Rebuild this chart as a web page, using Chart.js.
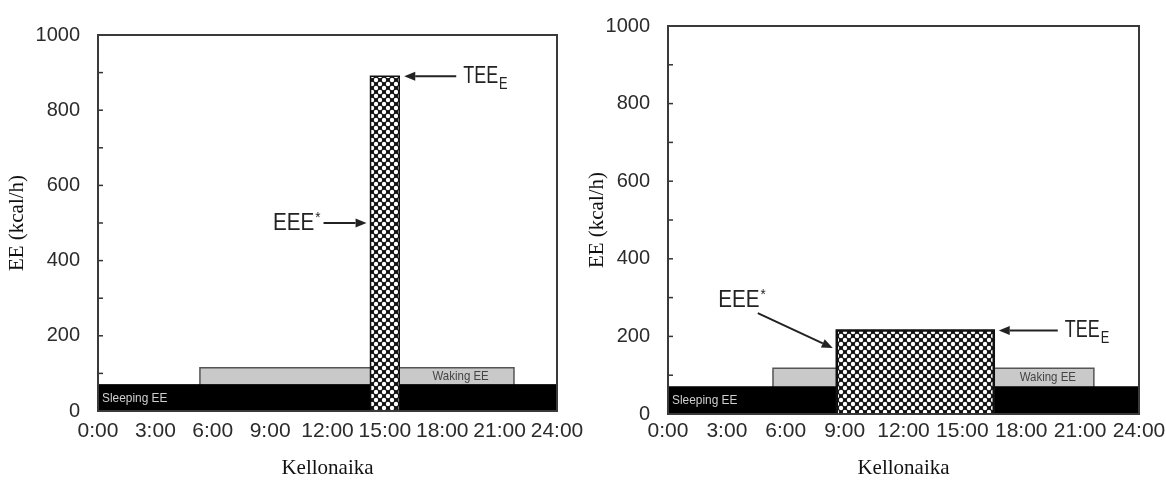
<!DOCTYPE html>
<html>
<head>
<meta charset="utf-8">
<script src="https://cdn.jsdelivr.net/npm/chart.js@4.4.1/dist/chart.umd.min.js"></script>
<style>
  html, body { margin: 0; padding: 0; background: #fff; }
  body { width: 1166px; height: 484px; position: relative; overflow: hidden; }
  .panel { position: absolute; top: 0; height: 484px; }
  #left { left: 0; width: 590px; }
  #right { left: 585px; width: 581px; }
</style>
</head>
<body>
<div class="panel" id="left"><canvas id="chartA"></canvas></div>
<div class="panel" id="right"><canvas id="chartB"></canvas></div>
<script>
// hours of the day on the x axis
const hourTicks = [0, 3, 6, 9, 12, 15, 18, 21, 24];
const timeLabels = ['0:00', '3:00', '6:00', '9:00', '12:00', '15:00', '18:00', '21:00', '24:00'];

// energy expenditure, kcal/h  (index 0 = short hard session, 1 = long light session)
const sleepingEE = [70, 70];
const wakingEE = [115, 118];
const wakingFrom = [5.33, 5.35];
const wakingTo = [21.75, 21.7];
const exerciseEE = [890, 215];
const exerciseFrom = [14.25, 8.6];
const exerciseTo = [15.75, 16.6];
// where the EEE* arrow points on the exercise block
const eeeArrowAt = [500, 170];

const TICK_FAMILY = "'Liberation Sans', Arial, sans-serif";
const TITLE_FONT = { family: "'Liberation Serif', 'Times New Roman', serif", size: 21 };

function crossHatch() {
  const c = document.createElement('canvas');
  const s = 8;
  c.width = c.height = s;
  const g = c.getContext('2d');
  g.fillStyle = '#111';
  g.fillRect(0, 0, s, s);
  g.fillStyle = '#fff';
  [[0, 0], [s, 0], [0, s], [s, s], [s / 2, s / 2]].forEach(([x, y]) => {
    g.beginPath();
    g.arc(x, y, 2.2, 0, Math.PI * 2);
    g.fill();
  });
  return g.createPattern(c, 'repeat');
}

function block(from, to, top) {
  return [{ x: from, y: 0 }, { x: from, y: top }, { x: to, y: top }, { x: to, y: 0 }];
}

function arrow(ctx, x1, y1, x2, y2) {
  const a = Math.atan2(y2 - y1, x2 - x1);
  const head = 11, half = 4.5;
  const bx = x2 - head * Math.cos(a), by = y2 - head * Math.sin(a);
  ctx.beginPath();
  ctx.moveTo(x1, y1);
  ctx.lineTo(bx, by);
  ctx.stroke();
  ctx.beginPath();
  ctx.moveTo(x2, y2);
  ctx.lineTo(bx + half * Math.sin(a), by - half * Math.cos(a));
  ctx.lineTo(bx - half * Math.sin(a), by + half * Math.cos(a));
  ctx.closePath();
  ctx.fill();
}

// condensed text: squeeze horizontally around the anchor point
function narrowText(ctx, text, x, y, size, align, squeeze) {
  ctx.save();
  ctx.font = size + 'px ' + TICK_FAMILY;
  ctx.textAlign = align;
  ctx.translate(x, y);
  ctx.scale(squeeze, 1);
  ctx.fillText(text, 0, 0);
  const w = ctx.measureText(text).width * squeeze;
  ctx.restore();
  return w;
}

// frame, inner ticks, block labels and the two arrows
const decor = {
  id: 'decor',
  afterDatasetsDraw(chart) {
    const i = chart.options.panel;
    const { ctx, chartArea: ca, scales } = chart;
    const xs = scales.x, ys = scales.y;
    ctx.save();

    ctx.strokeStyle = '#333';
    ctx.lineWidth = 1.5;
    for (let v = 100; v < 1000; v += 100) {
      const y = ys.getPixelForValue(v);
      ctx.beginPath();
      ctx.moveTo(ca.left, y);
      ctx.lineTo(ca.left + 5, y);
      ctx.stroke();
    }
    ctx.lineWidth = 2;
    ctx.strokeStyle = '#3a3a3a';
    ctx.strokeRect(ca.left, ca.top, ca.right - ca.left, ca.bottom - ca.top);

    ctx.textBaseline = 'middle';
    ctx.fillStyle = '#cfcfcf';
    narrowText(ctx, 'Sleeping EE', ca.left + 4, ys.getPixelForValue(sleepingEE[i] / 2), 13.5, 'left', 0.88);
    ctx.fillStyle = '#444';
    narrowText(ctx, 'Waking EE',
      (xs.getPixelForValue(exerciseTo[i]) + xs.getPixelForValue(wakingTo[i])) / 2 + 4,
      ys.getPixelForValue((sleepingEE[i] + wakingEE[i]) / 2), 13.5, 'center', 0.85);

    ctx.fillStyle = '#222';
    ctx.strokeStyle = '#222';
    ctx.lineWidth = 2;

    // TEE_E arrow at the top of the exercise block
    const ty = ys.getPixelForValue(exerciseEE[i]);
    const tx = xs.getPixelForValue(exerciseTo[i]) + 5;
    const tl = i === 0 ? 52 : 59;
    arrow(ctx, tx + tl, ty, tx, ty);
    const tw = narrowText(ctx, 'TEE', tx + tl + 7, ty, 23, 'left', 0.78);
    narrowText(ctx, 'E', tx + tl + 8 + tw, ty + 8, 16, 'left', 0.8);

    // EEE* arrow at the left side of the exercise block
    const ey = ys.getPixelForValue(eeeArrowAt[i]);
    const ex = xs.getPixelForValue(exerciseFrom[i]) - 4;
    let lx, ly;
    if (i === 0) {
      arrow(ctx, ex - 43, ey, ex, ey);
      lx = ex - 46; ly = ey;
    } else {
      arrow(ctx, ex - 75, ey - 35, ex, ey);
      lx = ex - 67; ly = ey - 48;
    }
    const sw = narrowText(ctx, '*', lx, ly - 5, 15, 'right', 0.9);
    narrowText(ctx, 'EEE', lx - sw - 1, ly, 24, 'right', 0.86);

    ctx.restore();
  }
};

function buildPanel(canvasId, i, pad, yWidth, xHeight, yTitlePad, xTickPad) {
  const hatch = crossHatch();
  return new Chart(document.getElementById(canvasId), {
    type: 'line',
    data: {
      datasets: [
        {
          data: block(exerciseFrom[i], exerciseTo[i], exerciseEE[i]),
          fill: 'origin',
          backgroundColor: hatch,
          borderColor: '#111',
          borderWidth: i === 0 ? 1.5 : 2.5,
          order: 1
        },
        {
          data: [{ x: 0, y: sleepingEE[i] }, { x: 24, y: sleepingEE[i] }],
          fill: 'origin',
          backgroundColor: '#000',
          borderColor: '#000',
          borderWidth: 1,
          order: 2
        },
        {
          data: block(wakingFrom[i], wakingTo[i], wakingEE[i]),
          fill: 'origin',
          backgroundColor: '#c9c9c9',
          borderColor: '#555',
          borderWidth: 1.5,
          order: 3
        }
      ]
    },
    options: {
      panel: i,
      responsive: true,
      maintainAspectRatio: false,
      animation: false,
      layout: { padding: pad },
      elements: { point: { radius: 0 }, line: { tension: 0 } },
      plugins: { legend: { display: false }, tooltip: { enabled: false } },
      scales: {
        x: {
          type: 'linear',
          min: 0,
          max: 24,
          grid: { display: false },
          border: { display: false },
          afterBuildTicks: axis => { axis.ticks = hourTicks.map(v => ({ value: v })); },
          afterFit: axis => { axis.height = xHeight; },
          ticks: {
            autoSkip: false,
            maxRotation: 0,
            padding: xTickPad,
            color: '#2b2b2b',
            font: { family: TICK_FAMILY, size: 21 },
            callback: (v, idx) => timeLabels[idx]
          },
          title: {
            display: true,
            text: 'Kellonaika',
            color: '#111',
            font: TITLE_FONT,
            padding: { top: 0, bottom: 3 }
          }
        },
        y: {
          min: 0,
          max: 1000,
          grid: { display: false },
          border: { display: false },
          afterFit: axis => { axis.width = yWidth; },
          ticks: {
            stepSize: 200,
            padding: 10,
            color: '#2b2b2b',
            font: { family: TICK_FAMILY, size: 20 },
            callback: v => String(v)
          },
          title: {
            display: true,
            text: 'EE (kcal/h)',
            color: '#111',
            font: TITLE_FONT,
            padding: { top: yTitlePad, bottom: 0 }
          }
        }
      }
    },
    plugins: [decor]
  });
}

buildPanel('chartA', 0, { left: 0, top: 35, right: 33, bottom: 0 }, 98, 73, 5, 0);
buildPanel('chartB', 1, { left: 0, top: 26, right: 27, bottom: 0 }, 83, 70, 0, -3);
</script>
</body>
</html>
